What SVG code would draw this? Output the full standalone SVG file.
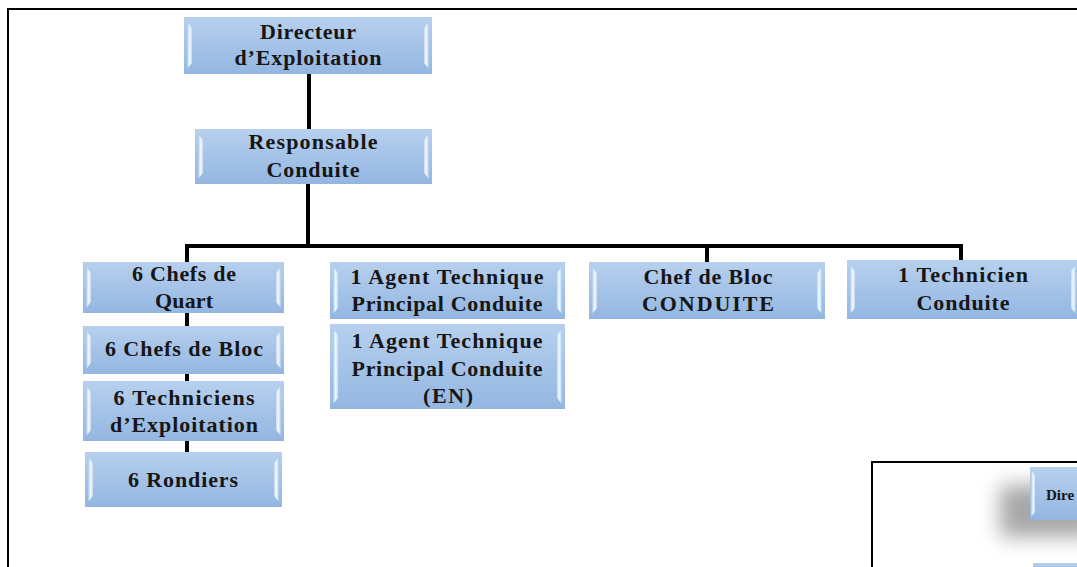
<svg xmlns="http://www.w3.org/2000/svg" width="1077" height="567" viewBox="0 0 1077 567">
<defs>
<linearGradient id="boxg" x1="0" y1="0" x2="0" y2="1">
<stop offset="0" stop-color="#b7d0ee"/>
<stop offset="1" stop-color="#93b6e1"/>
</linearGradient>
<linearGradient id="bevL" x1="0" y1="0" x2="1" y2="0">
<stop offset="0" stop-color="#a9c6ea"/>
<stop offset="0.5" stop-color="#eef8fe"/>
<stop offset="1" stop-color="#c9def3"/>
</linearGradient>
<linearGradient id="bevR" x1="0" y1="0" x2="1" y2="0">
<stop offset="0" stop-color="#c9def3"/>
<stop offset="0.5" stop-color="#eef8fe"/>
<stop offset="1" stop-color="#a9c6ea"/>
</linearGradient>
<filter id="blur" x="-50%" y="-50%" width="200%" height="200%">
<feGaussianBlur stdDeviation="10"/>
</filter>
</defs>
<style>
.box{fill:url(#boxg);}
.bl{fill:url(#bevL);}
.br{fill:url(#bevR);}
.t{font-family:"Liberation Serif","Times New Roman",serif;font-weight:bold;font-size:22px;fill:#161616;text-anchor:middle;}
.c{stroke:#000;stroke-width:4;fill:none;}
.frame{stroke:#000;stroke-width:2;fill:none;}
</style>
<rect width="1077" height="567" fill="#fff"/>
<path class="frame" d="M8,567 V9 H1077"/>

<g id="connectors">
<path class="c" d="M309,74 V129"/>
<path class="c" d="M308,184 V246"/>
<path class="c" d="M185,246 H963"/>
<path class="c" d="M187,244 V262"/>
<path class="c" d="M707,246 V262"/>
<path class="c" d="M961,244 V260"/>
<path class="c" d="M187,313 V326"/>
<path class="c" d="M187,374 V381"/>
<path class="c" d="M187,441 V452"/>
</g>

<g id="n-directeur">
<rect class="box" x="184" y="17" width="248" height="57"/>
<path class="bl" d="M187,22 L192,28 L192,63 L187,69 Z"/>
<path class="br" d="M429,22 L424,28 L424,63 L429,69 Z"/>
<text class="t" x="308" y="39" textLength="96" lengthAdjust="spacing">Directeur</text>
<text class="t" x="308" y="65" textLength="147" lengthAdjust="spacing">d’Exploitation</text>
</g>

<g id="n-responsable">
<rect class="box" x="195" y="129" width="237" height="55"/>
<path class="bl" d="M198,134 L203,140 L203,173 L198,179 Z"/>
<path class="br" d="M429,134 L424,140 L424,173 L429,179 Z"/>
<text class="t" x="313" y="149" textLength="129" lengthAdjust="spacing">Responsable</text>
<text class="t" x="313" y="177" textLength="93" lengthAdjust="spacing">Conduite</text>
</g>

<g id="n-chefs-quart">
<rect class="box" x="83" y="262" width="201" height="51"/>
<path class="bl" d="M86,267 L91,273 L91,302 L86,308 Z"/>
<path class="br" d="M281,267 L276,273 L276,302 L281,308 Z"/>
<text class="t" x="184" y="281" textLength="104" lengthAdjust="spacing">6 Chefs de</text>
<text class="t" x="184" y="308" textLength="58" lengthAdjust="spacing">Quart</text>
</g>

<g id="n-chefs-bloc">
<rect class="box" x="83" y="326" width="201" height="48"/>
<path class="bl" d="M86,331 L91,337 L91,363 L86,369 Z"/>
<path class="br" d="M281,331 L276,337 L276,363 L281,369 Z"/>
<text class="t" x="184" y="356" textLength="158" lengthAdjust="spacing">6 Chefs de Bloc</text>
</g>

<g id="n-techniciens">
<rect class="box" x="83" y="381" width="201" height="60"/>
<path class="bl" d="M86,386 L91,392 L91,430 L86,436 Z"/>
<path class="br" d="M281,386 L276,392 L276,430 L281,436 Z"/>
<text class="t" x="184" y="405" textLength="141" lengthAdjust="spacing">6 Techniciens</text>
<text class="t" x="184" y="432" textLength="148" lengthAdjust="spacing">d’Exploitation</text>
</g>

<g id="n-rondiers">
<rect class="box" x="85" y="452" width="197" height="55"/>
<path class="bl" d="M88,457 L93,463 L93,496 L88,502 Z"/>
<path class="br" d="M279,457 L274,463 L274,496 L279,502 Z"/>
<text class="t" x="183" y="487" textLength="110" lengthAdjust="spacing">6 Rondiers</text>
</g>

<g id="n-agent">
<rect class="box" x="330" y="262" width="235" height="57"/>
<path class="bl" d="M333,267 L338,273 L338,308 L333,314 Z"/>
<path class="br" d="M562,267 L557,273 L557,308 L562,314 Z"/>
<text class="t" x="447" y="284" textLength="193" lengthAdjust="spacing">1 Agent Technique</text>
<text class="t" x="447" y="311" textLength="191" lengthAdjust="spacing">Principal Conduite</text>
</g>

<g id="n-agent-en">
<rect class="box" x="330" y="324" width="235" height="85"/>
<path class="bl" d="M333,329 L338,335 L338,398 L333,404 Z"/>
<path class="br" d="M562,329 L557,335 L557,398 L562,404 Z"/>
<text class="t" x="447" y="348" textLength="191" lengthAdjust="spacing">1 Agent Technique</text>
<text class="t" x="447" y="376" textLength="191" lengthAdjust="spacing">Principal Conduite</text>
<text class="t" x="448" y="403" textLength="50" lengthAdjust="spacing">(EN)</text>
</g>

<g id="n-chef-bloc-conduite">
<rect class="box" x="589" y="262" width="236" height="57"/>
<path class="bl" d="M592,267 L597,273 L597,308 L592,314 Z"/>
<path class="br" d="M822,267 L817,273 L817,308 L822,314 Z"/>
<text class="t" x="708" y="284" textLength="129" lengthAdjust="spacing">Chef de Bloc</text>
<text class="t" x="708" y="311" textLength="132" lengthAdjust="spacing">CONDUITE</text>
</g>

<g id="n-technicien-conduite">
<rect class="box" x="847" y="260" width="232" height="59"/>
<path class="bl" d="M850,265 L855,271 L855,308 L850,314 Z"/>
<path class="br" d="M1076,265 L1071,271 L1071,308 L1076,314 Z"/>
<text class="t" x="963" y="282" textLength="130" lengthAdjust="spacing">1 Technicien</text>
<text class="t" x="963" y="310" textLength="93" lengthAdjust="spacing">Conduite</text>
</g>

<g id="inset">
<path class="frame" d="M872,567 V462 H1077"/>
<rect x="1000" y="485" width="95" height="52" fill="#8a8a8a" filter="url(#blur)" opacity="0.75"/>
<rect class="box" x="1030" y="467" width="60" height="53"/>
<path class="bl" d="M1031,470 L1035,475 L1035,512 L1031,517 Z"/>
<text x="1046" y="500" style="font-family:'Liberation Serif','Times New Roman',serif;font-weight:bold;font-size:15px;fill:#161616;">Dire</text>
<rect class="box" x="1033" y="563" width="50" height="10"/>
</g>
</svg>
